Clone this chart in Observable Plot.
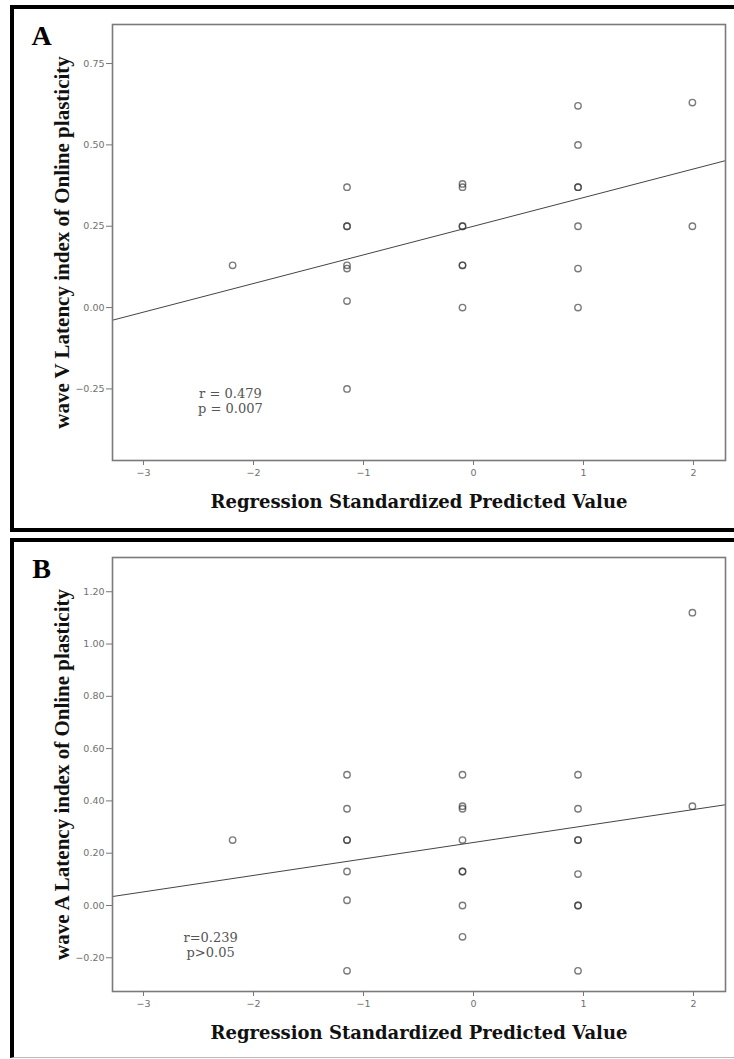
<!DOCTYPE html>
<html>
<head>
<meta charset="utf-8">
<script src="https://cdn.jsdelivr.net/npm/d3@7"></script>
<script src="https://cdn.jsdelivr.net/npm/@observablehq/plot@0.6"></script>
<style>
  html, body { margin: 0; padding: 0; background: #fff; }
  #page { position: relative; width: 734px; height: 1059px; overflow: hidden; }
  .box { position: absolute; box-sizing: border-box; }
  #boxA { left: 10px; top: 5px; width: 760px; height: 527px; border: 4px solid #000; }
  #boxB { left: 10px; top: 538px; width: 760px; height: 520px; border-top: 4px solid #000; border-left: 4px solid #000; border-bottom: 1px solid #bbb; }
  .plot { position: absolute; left: 0; }
  #plotA { top: 0; }
  #plotB { top: 530px; }
</style>
</head>
<body>
<div id="page">
  <div class="box" id="boxA"></div>
  <div class="box" id="boxB"></div>
  <div class="plot" id="plotA"></div>
  <div class="plot" id="plotB"></div>
</div>
<script>
// ---------- Panel A data ----------
const panelALetter = "A";
const xA = [-2.19,
  -1.15, -1.15, -1.15, -1.15, -1.15, -1.15, -1.15,
  -0.10, -0.10, -0.10, -0.10, -0.10, -0.10, -0.10,
  0.95, 0.95, 0.95, 0.95, 0.95, 0.95, 0.95,
  1.99, 1.99];
const yA = [0.13,
  0.37, 0.25, 0.25, 0.13, 0.12, 0.02, -0.25,
  0.38, 0.37, 0.25, 0.25, 0.13, 0.13, 0.00,
  0.62, 0.50, 0.37, 0.37, 0.25, 0.12, 0.00,
  0.63, 0.25];
const fitA = [0.25, 0.088];           // intercept, slope
const yTicksA = [-0.25, 0, 0.25, 0.5, 0.75];
const yTitleA = "wave V Latency index of Online plasticity";
const statA = "r = 0.479\np = 0.007";

// ---------- Panel B data ----------
const panelBLetter = "B";
const xB = [-2.19,
  -1.15, -1.15, -1.15, -1.15, -1.15, -1.15, -1.15,
  -0.10, -0.10, -0.10, -0.10, -0.10, -0.10, -0.10, -0.10,
  0.95, 0.95, 0.95, 0.95, 0.95, 0.95, 0.95, 0.95,
  1.99, 1.99];
const yB = [0.25,
  0.50, 0.37, 0.25, 0.25, 0.13, 0.02, -0.25,
  0.50, 0.38, 0.37, 0.25, 0.13, 0.13, 0.00, -0.12,
  0.50, 0.37, 0.25, 0.25, 0.12, 0.00, 0.00, -0.25,
  1.12, 0.38];
const fitB = [0.241, 0.063];
const yTicksB = [-0.2, 0, 0.2, 0.4, 0.6, 0.8, 1.0, 1.2];
const yTitleB = "wave A Latency index of Online plasticity";
const statB = "r=0.239\np>0.05";

// ---------- shared ----------
const xTicks = [-3, -2, -1, 0, 1, 2];
const xTitle = "Regression Standardized Predicted Value";

const serif = "'Liberation Serif', 'Times New Roman', serif";
const wideSerif = "'DejaVu Serif', serif";
const sans = "'DejaVu Sans', Arial, sans-serif";

function panel({xs, ys, fit, yTicks, xDomain, yDomain, marginTop, height, letter, yTitle, stat, statX, statY}) {
  const pts = xs.map((x, i) => ({x, y: ys[i]}));
  const line = xDomain.map(x => ({x, y: fit[0] + fit[1] * x}));
  return Plot.plot({
    width: 734,
    height,
    marginLeft: 112,
    marginRight: 9,
    marginTop,
    marginBottom: 68,
    style: {fontFamily: sans, fontSize: "9.5px", color: "#666", background: "transparent", overflow: "visible"},
    x: {domain: xDomain},
    y: {domain: yDomain},
    marks: [
      Plot.line(line, {x: "x", y: "y", stroke: "#444", strokeWidth: 1}),
      Plot.dot(pts, {x: "x", y: "y", r: 3.2, stroke: "#333", strokeOpacity: 0.65, strokeWidth: 1.4, fill: "none"}),
      Plot.frame({stroke: "#7a7a7a", strokeWidth: 1.6}),
      Plot.axisY({ticks: yTicks, tickFormat: d3.format(".2f"), tickSize: 6, tickPadding: 2, label: null, stroke: "#777", fill: "#707070", fontSize: 9.5}),
      Plot.axisX({ticks: xTicks, tickFormat: d3.format("d"), tickSize: 5, tickPadding: 4, label: null, stroke: "#777", fill: "#707070", fontSize: 9.5}),
      Plot.text([stat], {x: () => statX, y: () => statY, text: d => d, fontFamily: wideSerif, fontSize: 13, fill: "#555", lineHeight: 1.15, textAnchor: "middle"}),
      Plot.text([yTitle], {frameAnchor: "left", dx: -50, rotate: -90, text: d => d, textAnchor: "middle", lineAnchor: "middle", fontFamily: serif, fontWeight: "bold", fontSize: 21, fill: "#111"}),
      Plot.text([xTitle], {frameAnchor: "bottom", dy: 42, text: d => d, textAnchor: "middle", lineAnchor: "middle", fontFamily: wideSerif, fontWeight: "bold", fontSize: 18, fill: "#111"}),
      Plot.text([letter], {frameAnchor: "top-left", dx: -71, dy: 12, text: d => d, textAnchor: "middle", lineAnchor: "middle", fontFamily: serif, fontWeight: "bold", fontSize: 28, fill: "#000"})
    ]
  });
}

document.getElementById("plotA").append(panel({
  xs: xA, ys: yA, fit: fitA, yTicks: yTicksA,
  xDomain: [-3.282, 2.291], yDomain: [-0.47, 0.87],
  marginTop: 24, height: 528, letter: panelALetter, yTitle: yTitleA,
  stat: statA, statX: -2.21, statY: -0.285
}));

document.getElementById("plotB").append(panel({
  xs: xB, ys: yB, fit: fitB, yTicks: yTicksB,
  xDomain: [-3.282, 2.291], yDomain: [-0.329, 1.331],
  marginTop: 27, height: 529, letter: panelBLetter, yTitle: yTitleB,
  stat: statB, statX: -2.39, statY: -0.149
}));
</script>
</body>
</html>
